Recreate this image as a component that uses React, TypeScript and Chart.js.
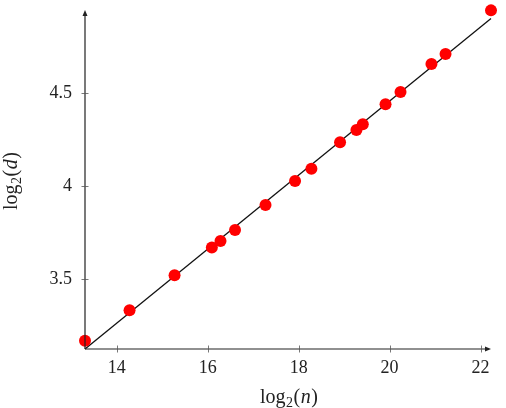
import React, { useEffect, useRef } from "react";
import { Chart, registerables } from "chart.js";
Chart.register(...registerables);

const nLog = [13.3, 14.28, 15.27, 16.09, 16.28, 16.6, 17.27, 17.92, 18.28, 18.91, 19.27, 19.41, 19.91, 20.24, 20.92, 21.23, 22.23];
const dLog = [3.168, 3.332, 3.52, 3.67, 3.704, 3.763, 3.898, 4.027, 4.093, 4.235, 4.301, 4.332, 4.44, 4.505, 4.656, 4.71, 4.944];
const fitX = [13.3, 22.23];
const fitY = [3.124, 4.9];
const xTicks = [14, 16, 18, 20, 22];
const yTicks = [3.5, 4, 4.5];
const xVar = "n";
const yVar = "d";

const FONT = "'Liberation Serif', 'DejaVu Serif', serif";
const INK = "#222";

function drawTitle(ctx: CanvasRenderingContext2D, v: string) {
  const parts: [string, string, number][] = [
    ["log", `20px ${FONT}`, 0],
    ["2", `14px ${FONT}`, 4],
    ["(", `20px ${FONT}`, 0],
    [v, `italic 20px ${FONT}`, 0],
    [")", `20px ${FONT}`, 0],
  ];
  let w = 0;
  for (const [t, f] of parts) { ctx.font = f; w += ctx.measureText(t).width; }
  let x = -w / 2;
  ctx.textBaseline = "alphabetic";
  ctx.textAlign = "left";
  for (const [t, f, dy] of parts) {
    ctx.font = f;
    ctx.fillText(t, x, dy);
    x += ctx.measureText(t).width + 0.5;
  }
}

const axesPlugin = {
  id: "axesPlugin",
  afterDatasetsDraw(chart: any) {
    const { ctx, chartArea: a, scales } = chart;
    const xs = scales.x, ys = scales.y;
    ctx.save();
    ctx.strokeStyle = INK;
    ctx.fillStyle = INK;
    ctx.lineWidth = 1.2;
    ctx.beginPath();
    ctx.moveTo(a.left, a.bottom);
    ctx.lineTo(a.right - 3, a.bottom);
    ctx.moveTo(a.left, a.bottom);
    ctx.lineTo(a.left, a.top + 3);
    ctx.stroke();
    ctx.beginPath();
    ctx.moveTo(a.right, a.bottom);
    ctx.lineTo(a.right - 6, a.bottom - 2.5);
    ctx.lineTo(a.right - 6, a.bottom + 2.5);
    ctx.closePath();
    ctx.fill();
    ctx.beginPath();
    ctx.moveTo(a.left, a.top);
    ctx.lineTo(a.left - 2.5, a.top + 6);
    ctx.lineTo(a.left + 2.5, a.top + 6);
    ctx.closePath();
    ctx.fill();
    ctx.lineWidth = 0.8;
    ctx.strokeStyle = "#555";
    ctx.beginPath();
    for (const v of xTicks) {
      const px = Math.round(xs.getPixelForValue(v)) + 0.5;
      ctx.moveTo(px, a.bottom - 3.5);
      ctx.lineTo(px, a.bottom + 3.5);
    }
    for (const v of yTicks) {
      const py = Math.round(ys.getPixelForValue(v)) + 0.5;
      ctx.moveTo(a.left - 3.5, py);
      ctx.lineTo(a.left + 3.5, py);
    }
    ctx.stroke();
    ctx.fillStyle = INK;
    ctx.save();
    ctx.translate((a.left + a.right) / 2, 403);
    drawTitle(ctx, xVar);
    ctx.restore();
    ctx.save();
    ctx.translate(17, 182);
    ctx.rotate(-Math.PI / 2);
    drawTitle(ctx, yVar);
    ctx.restore();
    ctx.restore();
  },
};

export default function App() {
  const ref = useRef<HTMLCanvasElement>(null);
  useEffect(() => {
    document.body.style.margin = "0";
    const pts = nLog.map((x, i) => ({ x, y: dLog[i] }));
    const fit = fitX.map((x, i) => ({ x, y: fitY[i] }));
    const chart = new Chart(ref.current!, {
      type: "scatter",
      data: {
        datasets: [
          {
            label: "data",
            data: pts,
            backgroundColor: "#ff0000",
            borderWidth: 0,
            pointRadius: 6,
            pointHoverRadius: 6,
            order: 0,
            clip: false,
          } as any,
          {
            label: "fit",
            data: fit,
            showLine: true,
            borderColor: "#111",
            borderWidth: 1.3,
            pointRadius: 0,
            order: 1,
            clip: false,
          } as any,
        ],
      },
      options: {
        animation: false,
        responsive: false,
        events: [],
        layout: { padding: { top: 10, right: 15, left: 0, bottom: 0 } },
        plugins: { legend: { display: false }, tooltip: { enabled: false } },
        scales: {
          x: {
            type: "linear",
            min: 13.3,
            max: 22.23,
            grid: { display: false, drawTicks: false },
            border: { display: false },
            afterBuildTicks: (s: any) => { s.ticks = xTicks.map((value) => ({ value })); },
            afterFit: (s: any) => { s.height = 59; s.paddingLeft = 0; s.paddingRight = 0; },
            ticks: { padding: 8, color: INK, font: { family: FONT, size: 18 }, callback: (v: any) => String(v) },
          },
          y: {
            type: "linear",
            min: 3.124,
            max: 4.946,
            grid: { display: false, drawTicks: false },
            border: { display: false },
            afterBuildTicks: (s: any) => { s.ticks = yTicks.map((value) => ({ value })); },
            afterFit: (s: any) => { s.width = 85; s.paddingTop = 0; s.paddingBottom = 0; },
            ticks: { padding: 13, color: INK, font: { family: FONT, size: 18 }, callback: (v: any) => String(v) },
          },
        },
      },
      plugins: [axesPlugin],
    });
    return () => chart.destroy();
  }, []);
  return (
    <div style={{ width: 506, height: 408, background: "#fff" }}>
      <canvas ref={ref} width={506} height={408} style={{ display: "block" }} />
    </div>
  );
}
